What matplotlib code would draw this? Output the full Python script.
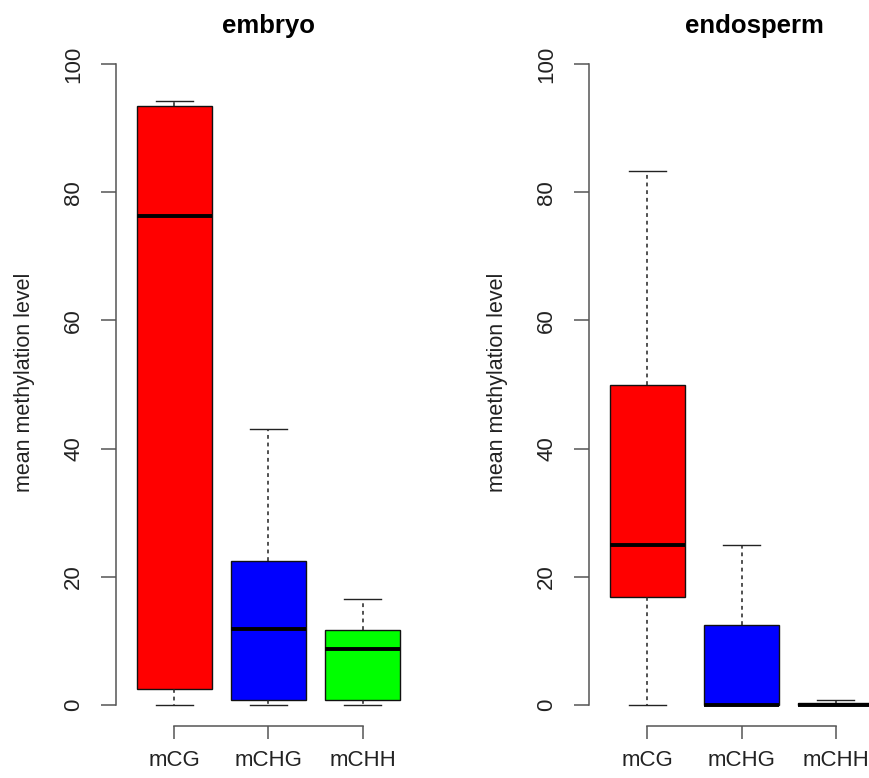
import matplotlib
matplotlib.use("Agg")
import matplotlib.pyplot as plt

plt.rcParams['font.family'] = ['Liberation Sans', 'DejaVu Sans']

categories = ['mCG', 'mCHG', 'mCHH']
colors = ['#ff0000', '#0000ff', '#00ff00']

# five-number summaries: whislo, q1, med, q3, whishi
embryo_lo = [0.0, 0.0, 0.0]
embryo_q1 = [2.5, 0.8, 0.8]
embryo_med = [76.3, 11.9, 8.7]
embryo_q3 = [93.4, 22.4, 11.7]
embryo_hi = [94.2, 43.0, 16.5]

endo_lo = [0.0, 0.0, 0.0]
endo_q1 = [16.8, 0.0, 0.0]
endo_med = [25.0, 0.0, 0.0]
endo_q3 = [49.9, 12.5, 0.3]
endo_hi = [83.3, 25.0, 0.8]


def make_stats(lo, q1, med, q3, hi):
    return [dict(whislo=a, q1=b, med=c, q3=d, whishi=e, fliers=[], label=n)
            for a, b, c, d, e, n in zip(lo, q1, med, q3, hi, categories)]


def draw_panel(ax, stats, title, title_x):
    bp = ax.bxp(stats, widths=0.8, capwidths=0.4, patch_artist=True,
                showfliers=False,
                boxprops=dict(edgecolor='#111111', linewidth=1.0),
                medianprops=dict(color='black', linewidth=2.8, solid_capstyle='butt'),
                whiskerprops=dict(color='#222222', linewidth=1.1, linestyle=(0, (2.5, 2.5))),
                capprops=dict(color='#222222', linewidth=1.0))
    for patch, c in zip(bp['boxes'], colors):
        patch.set_facecolor(c)
    ax.set_xlim(0.38, 3.62)
    ax.set_ylim(-3.3, 104)
    ax.spines['top'].set_visible(False)
    ax.spines['right'].set_visible(False)
    ax.spines['left'].set_bounds(0, 100)
    ax.spines['bottom'].set_bounds(1, 3)
    for s in ('left', 'bottom'):
        ax.spines[s].set_color('#555555')
        ax.spines[s].set_linewidth(1.1)
    ax.set_yticks([0, 20, 40, 60, 80, 100])
    ax.set_yticklabels(['0', '20', '40', '60', '80', '100'], rotation=90, va='center')
    ax.tick_params(axis='both', width=1.1, color='#555555', labelsize=16, labelcolor='#222222')
    ax.tick_params(axis='y', length=11, pad=12)
    ax.tick_params(axis='x', length=9.5, pad=8)
    ax.set_ylabel('mean methylation level', fontsize=15.5, labelpad=20, color='#222222')
    ax.set_title(title, fontsize=18.5, fontweight='bold', x=title_x, pad=4)


fig = plt.figure(figsize=(8.7, 7.78), dpi=100)
ax1 = fig.add_axes([0.1333, 0.0668, 0.3506, 0.8838])
ax2 = fig.add_axes([0.677, 0.0668, 0.3506, 0.8838])

draw_panel(ax1, make_stats(embryo_lo, embryo_q1, embryo_med, embryo_q3, embryo_hi), 'embryo', 0.5)
draw_panel(ax2, make_stats(endo_lo, endo_q1, endo_med, endo_q3, endo_hi), 'endosperm', 0.544)

fig.savefig('out.png', dpi=100)
